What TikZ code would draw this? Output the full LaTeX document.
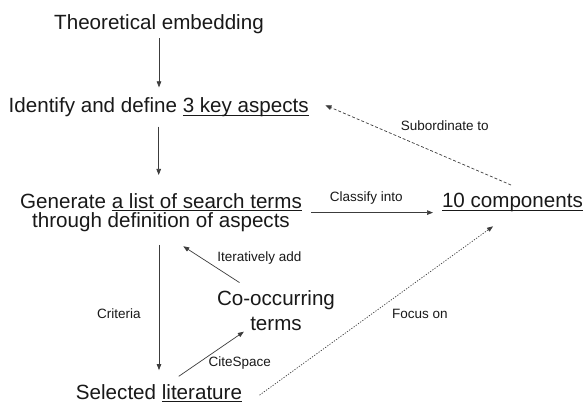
\documentclass[tikz,border=0pt]{standalone}
\usepackage{fontspec}
\setmainfont{Liberation Sans}
\usepackage{tikz}
\usetikzlibrary{positioning, arrows.meta}

\definecolor{linegray}{HTML}{3C3C3C}
\newcommand{\keyline}[1]{\setbox0\hbox{#1}\rlap{\rule[-2.8pt]{\wd0}{1pt}}\box0}

\begin{document}
\begin{tikzpicture}[x=1pt, y=-1pt]
  \tikzstyle{stage}=[inner sep=0pt, outer sep=0pt, font=\fontsize{20.6}{24.7}\selectfont, text=black!90]
  \tikzstyle{edgelabel}=[inner sep=0pt, font=\fontsize{13.5}{16}\selectfont, text=black!90]
  \tikzstyle{flow}=[draw=linegray, line width=0.7pt, -{Triangle[length=6pt, width=4.5pt]}]

  \useasboundingbox[fill=white] (0,0) rectangle (584,403);

  % stages
  \node (theo) at (159, 29.3) [stage, anchor=base] {Theoretical embedding};
  \node (aspects) at (158.7, 113) [stage, anchor=base] {Identify and define \keyline{3 key aspects}};
  \node (terms) at (161, 193.3) [stage, anchor=north, align=center, font=\fontsize{20.6}{19.4}\selectfont]
    {Generate \keyline{a list of search terms}\\through definition of aspects};
  \node (comp) at (442, 208) [stage, anchor=base west] {\keyline{10 components}};
  \node (cooc) at (276, 290.7) [stage, anchor=north, align=center, font=\fontsize{20.6}{25}\selectfont]
    {Co-occurring\\terms};
  \node (lit) at (159, 399.3) [stage, anchor=base] {Selected \keyline{literature}};

  % main flow
  \draw[flow, shorten <=4.7pt, shorten >=10.7pt] (theo.south) -- (theo.south |- aspects.north);
  \draw[flow, shorten <=9.4pt, shorten >=18.3pt] (aspects.south) -- (aspects.south |- terms.north);
  \draw[flow, shorten <=13pt, shorten >=14.3pt] (lit.north |- terms.south)
    -- node[edgelabel, pos=0.534, left=18pt] {Criteria} (lit.north);
  \draw[flow, shorten <=9.3pt, shorten >=9pt] (terms.east)
    -- node[edgelabel, pos=0.46, above=8pt] {Classify into} (terms.east -| comp.west);
  \draw[flow, shorten <=15pt, shorten >=26.5pt] (cooc.140)
    -- node[edgelabel, pos=0.45, anchor=south west, xshift=6pt] {Iteratively add} (terms.south);
  \draw[flow, shorten <=14.2pt, shorten >=1.5pt] ([xshift=8pt]lit.north)
    -- node[edgelabel, pos=0.49, anchor=north west, xshift=3pt, yshift=1.5pt] {CiteSpace} (cooc.213);

  % links to the components
  \draw[flow, dash pattern=on 3pt off 2pt, shorten <=1.5pt, shorten >=18.2pt] ([yshift=8pt]comp.north)
    -- node[edgelabel, pos=0.332, above=25.4pt] {Subordinate to} (aspects.north east);
  \draw[flow, dash pattern=on 1.2pt off 1.5pt, shorten <=21.6pt, shorten >=23.9pt] ([yshift=-5.7pt]lit.south east)
    -- node[edgelabel, pos=0.48, anchor=west, xshift=20pt] {Focus on} (comp.south);
\end{tikzpicture}
\end{document}
